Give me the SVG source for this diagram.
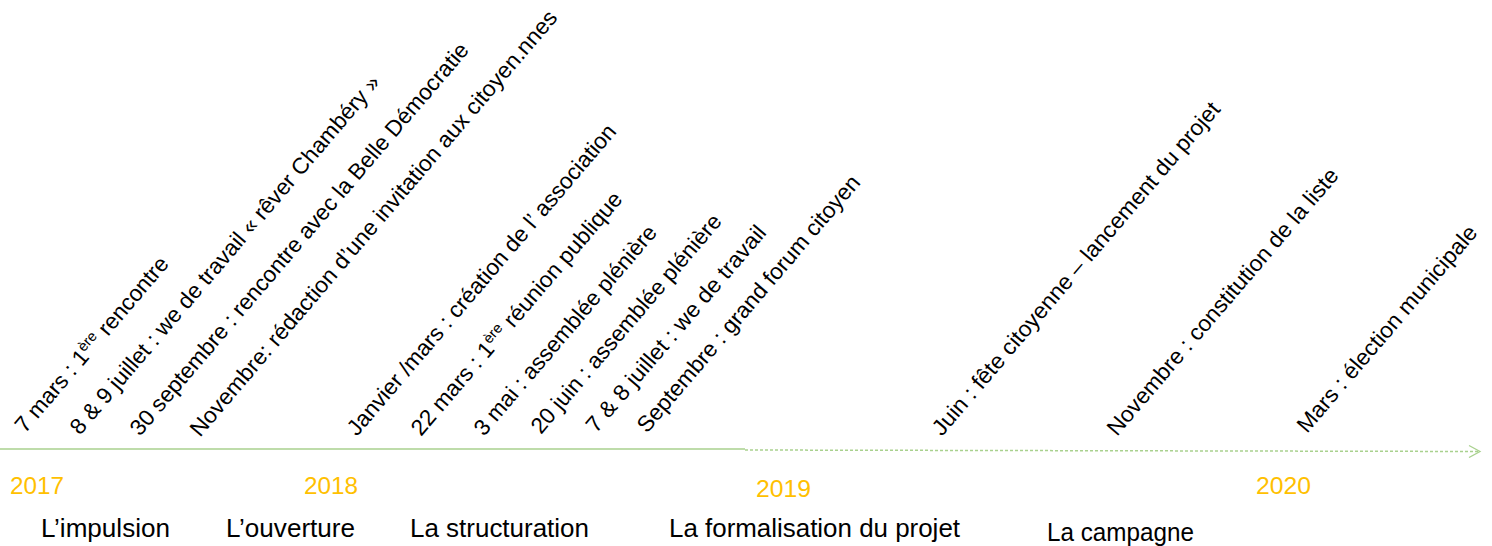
<svg xmlns="http://www.w3.org/2000/svg" width="1492" height="546" viewBox="0 0 1492 546">
<style>
.ev{font-family:"Liberation Sans",Arial,sans-serif;font-size:22.5px;fill:#000}
.sup{font-size:14.5px}
.yr{font-family:"Liberation Sans",Arial,sans-serif;font-size:24px;fill:#FFC000}
.ph{font-family:"Liberation Sans",Arial,sans-serif;font-size:25px;fill:#000}
.axis{stroke:#A9D18E;stroke-width:1.5;fill:none}
.axisd{stroke:#A9D18E;stroke-width:1.5;fill:none;stroke-dasharray:3 2}
</style>
<defs>
<marker id="arr" markerWidth="14" markerHeight="14" refX="12" refY="7" orient="auto" markerUnits="userSpaceOnUse">
<path d="M1,1 L12,7 L1,13" fill="none" stroke="#A9D18E" stroke-width="1.3"/>
</marker>
</defs>
<rect width="1492" height="546" fill="#fff"/>
<g id="connectors">
<line class="axis" x1="0" y1="449" x2="745" y2="449"/>
<line class="axisd" x1="745" y1="450" x2="1480" y2="451.5" marker-end="url(#arr)"/>
</g>
<g id="events">
<g id="e1"><text class="ev" transform="translate(25,434) rotate(-49.5)" textLength="223" lengthAdjust="spacingAndGlyphs">7 mars : 1<tspan class="sup" dy="-8">ère</tspan><tspan dy="8"> rencontre</tspan></text></g>
<g id="e2"><text class="ev" transform="translate(80,436) rotate(-49.5)" textLength="464" lengthAdjust="spacingAndGlyphs">8 &amp; 9 juillet : we de travail « rêver Chambéry »</text></g>
<g id="e3"><text class="ev" transform="translate(140,437) rotate(-49.5)" textLength="508" lengthAdjust="spacingAndGlyphs">30 septembre : rencontre avec la Belle Démocratie</text></g>
<g id="e4"><text class="ev" transform="translate(200,438) rotate(-49.5)" textLength="552" lengthAdjust="spacingAndGlyphs">Novembre: rédaction d’une invitation aux citoyen.nnes</text></g>
<g id="e5"><text class="ev" transform="translate(357,437) rotate(-49.5)" textLength="401" lengthAdjust="spacingAndGlyphs">Janvier /mars : création de l’ association</text></g>
<g id="e6"><text class="ev" transform="translate(421,437) rotate(-49.5)" textLength="312" lengthAdjust="spacingAndGlyphs">22 mars : 1<tspan class="sup" dy="-8">ère</tspan><tspan dy="8"> réunion publique</tspan></text></g>
<g id="e7"><text class="ev" transform="translate(484,437) rotate(-49.5)" textLength="268" lengthAdjust="spacingAndGlyphs">3 mai : assemblée plénière</text></g>
<g id="e8"><text class="ev" transform="translate(541,435) rotate(-49.5)" textLength="280" lengthAdjust="spacingAndGlyphs">20 juin : assemblée plénière</text></g>
<g id="e9"><text class="ev" transform="translate(596,434) rotate(-49.5)" textLength="264" lengthAdjust="spacingAndGlyphs">7 &amp; 8 juillet : we de travail</text></g>
<g id="e10"><text class="ev" transform="translate(647,434) rotate(-49.5)" textLength="330" lengthAdjust="spacingAndGlyphs">Septembre : grand forum citoyen</text></g>
<g id="e11"><text class="ev" transform="translate(942,437) rotate(-49.5)" textLength="430" lengthAdjust="spacingAndGlyphs">Juin : fête citoyenne – lancement du projet</text></g>
<g id="e12"><text class="ev" transform="translate(1117,437) rotate(-49.5)" textLength="343" lengthAdjust="spacingAndGlyphs">Novembre : constitution de la liste</text></g>
<g id="e13"><text class="ev" transform="translate(1307,434) rotate(-49.5)" textLength="264" lengthAdjust="spacingAndGlyphs">Mars : élection municipale</text></g>
</g>
<g id="years">
<g id="y2017"><text class="yr" x="10" y="494" textLength="54" lengthAdjust="spacingAndGlyphs">2017</text></g>
<g id="y2018"><text class="yr" x="304" y="494" textLength="54" lengthAdjust="spacingAndGlyphs">2018</text></g>
<g id="y2019"><text class="yr" x="756" y="497" textLength="55" lengthAdjust="spacingAndGlyphs">2019</text></g>
<g id="y2020"><text class="yr" x="1256" y="494" textLength="55" lengthAdjust="spacingAndGlyphs">2020</text></g>
</g>
<g id="phases">
<g id="p1"><text class="ph" x="41" y="537" textLength="129" lengthAdjust="spacingAndGlyphs">L’impulsion</text></g>
<g id="p2"><text class="ph" x="226" y="537" textLength="129" lengthAdjust="spacingAndGlyphs">L’ouverture</text></g>
<g id="p3"><text class="ph" x="410" y="537" textLength="179" lengthAdjust="spacingAndGlyphs">La structuration</text></g>
<g id="p4"><text class="ph" x="669" y="537" textLength="291" lengthAdjust="spacingAndGlyphs">La formalisation du projet</text></g>
<g id="p5"><text class="ph" x="1047" y="541" textLength="147" lengthAdjust="spacingAndGlyphs">La campagne</text></g>
</g>
</svg>
